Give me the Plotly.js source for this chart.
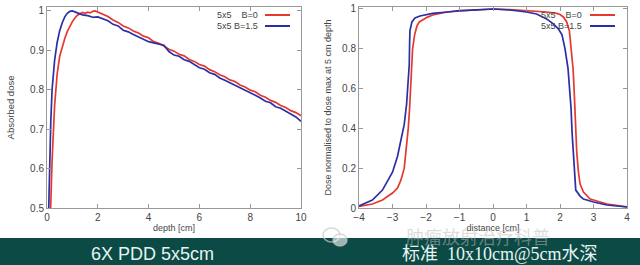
<!DOCTYPE html>
<html><head><meta charset="utf-8">
<script src="https://cdn.plot.ly/plotly-3.0.1.min.js"></script>
<style>html,body{margin:0;padding:0;background:#fff}#c{width:640px;height:265px}</style>
</head><body><div id="c"></div>
<script>
// ---- Left: PDD 5x5 ----
const pddDepthB0 = [0.12,0.2,0.3,0.4,0.5,0.6,0.7,0.8,0.9,1.0,1.1,1.2,1.3,1.4,1.5,1.6,1.7,1.8,1.9,
  2.0,2.2,2.4,2.6,2.8,3.0,3.2,3.4,3.6,3.8,4.0,4.2,4.4,4.6,4.8,5.0,5.2,5.4,5.6,5.8,6.0,6.2,6.4,6.6,6.8,7.0,7.2,7.4,7.6,7.8,8.0,8.2,8.4,8.6,8.8,9.0,9.2,9.4,9.6,9.8,10.0];
const pddDoseB0 = [0.45,0.62,0.76,0.84,0.885,0.91,0.93,0.948,0.962,0.973,0.982,0.989,0.993,0.996,0.994,0.997,0.995,0.999,1.0,
  0.997,0.990,0.986,0.977,0.971,0.962,0.957,0.949,0.944,0.936,0.932,0.922,0.918,0.911,0.903,0.898,0.890,0.886,0.877,0.872,0.864,0.860,0.851,0.846,0.838,0.833,0.825,0.821,0.812,0.807,0.799,0.795,0.786,0.781,0.773,0.768,0.760,0.755,0.747,0.742,0.734];
const pddDepthB15 = [0.05,0.1,0.15,0.2,0.3,0.4,0.5,0.6,0.7,0.8,0.9,1.0,1.1,1.2,1.3,1.4,1.6,1.8,
  2.0,2.2,2.4,2.6,2.8,3.0,3.2,3.4,3.6,3.8,4.0,4.2,4.4,4.6,4.8,5.0,5.2,5.4,5.6,5.8,6.0,6.2,6.4,6.6,6.8,7.0,7.2,7.4,7.6,7.8,8.0,8.2,8.4,8.6,8.8,9.0,9.2,9.4,9.6,9.8,10.0];
const pddDoseB15 = [0.45,0.6,0.72,0.8,0.875,0.92,0.95,0.97,0.985,0.994,0.999,1.0,0.997,0.994,0.992,0.99,0.988,0.984,
  0.985,0.980,0.975,0.966,0.962,0.951,0.947,0.940,0.934,0.929,0.922,0.919,0.916,0.913,0.897,0.888,0.885,0.876,0.872,0.864,0.856,0.852,0.843,0.839,0.830,0.824,0.818,0.812,0.804,0.799,0.792,0.786,0.779,0.771,0.767,0.757,0.753,0.745,0.738,0.731,0.720];

// ---- Right: profile 10x10 @5cm ----
const profXB0 = [-4.0,-3.6,-3.3,-3.0,-2.85,-2.75,-2.65,-2.58,-2.53,-2.49,-2.46,-2.43,-2.4,-2.34,-2.27,-2.2,-1.97,-1.8,-1.37,-1.0,-0.5,0,0.5,1.0,1.3,1.6,1.9,2.0,2.1,2.2,2.28,2.34,2.39,2.42,2.44,2.46,2.5,2.55,2.6,2.7,2.9,3.4,4.0];
const profYB0 = [0.008,0.02,0.04,0.075,0.1,0.14,0.2,0.3,0.4,0.5,0.6,0.7,0.8,0.87,0.915,0.935,0.958,0.97,0.985,0.99,0.995,1.0,0.997,0.993,0.99,0.985,0.978,0.972,0.96,0.935,0.89,0.8,0.7,0.6,0.5,0.38,0.28,0.18,0.12,0.08,0.045,0.02,0.006];
const profXB15 = [-4.0,-3.6,-3.3,-3.0,-2.85,-2.75,-2.65,-2.58,-2.53,-2.5,-2.49,-2.48,-2.42,-2.33,-2.18,-1.8,-1.37,-1.0,-0.5,0,0.5,1.0,1.3,1.6,1.8,1.95,2.06,2.15,2.24,2.29,2.33,2.36,2.4,2.44,2.47,2.6,2.7,3.0,3.4,4.0];
const profYB15 = [0.01,0.04,0.09,0.18,0.26,0.34,0.42,0.52,0.62,0.72,0.82,0.89,0.935,0.955,0.965,0.978,0.985,0.992,0.996,1.0,0.995,0.985,0.975,0.95,0.925,0.9,0.87,0.8,0.7,0.6,0.5,0.38,0.25,0.12,0.09,0.06,0.045,0.03,0.015,0.005];

const leftYTicks = [0.5,0.6,0.7,0.8,0.9,1];
const leftYLabels = ['0.5','0.6','0.7','0.8','0.9','1'];
const leftXTicks = [0,2,4,6,8,10];
const rightYTicks = [0,0.2,0.4,0.6,0.8,1];
const rightYLabels = ['0','0.2','0.4','0.6','0.8','1'];
const rightXTicks = [-4,-3,-2,-1,0,1,2,3,4];
const legendLabels = ['5x5    B=0','5x5 B=1.5'];
const captionLeft = '6X PDD 5x5cm';
const captionRight = '标准  10x10cm@5cm水深';

const RED = '#e5392f', BLUE = '#2b2fa6';
const tf = {family:'Liberation Sans, Arial, sans-serif', size:10, color:'#444'};

const traces = [
  {x:pddDepthB0, y:pddDoseB0, type:'scatter', mode:'lines', line:{color:RED,width:1.7}, xaxis:'x', yaxis:'y'},
  {x:pddDepthB15, y:pddDoseB15, type:'scatter', mode:'lines', line:{color:BLUE,width:1.7}, xaxis:'x', yaxis:'y'},
  {x:profXB0, y:profYB0, type:'scatter', mode:'lines', line:{color:RED,width:1.7}, xaxis:'x2', yaxis:'y2'},
  {x:profXB15, y:profYB15, type:'scatter', mode:'lines', line:{color:BLUE,width:1.7}, xaxis:'x2', yaxis:'y2'}
];

const W=640,H=265;
const px = v => v/W, py = v => 1 - v/H;
const ax = {showline:true, mirror:'ticks', linecolor:'#999', linewidth:1, ticks:'inside', ticklen:4, tickcolor:'#999', showgrid:false, zeroline:false, tickfont:tf, fixedrange:true};

const layout = {
  width:W, height:H, margin:{l:0,r:0,t:0,b:0}, paper_bgcolor:'#fff', plot_bgcolor:'#fff', showlegend:false,
  xaxis: Object.assign({}, ax, {domain:[px(47),px(301)], range:[0,10], tickvals:leftXTicks, anchor:'y',
     title:{text:'depth [cm]', font:{family:tf.family,size:9,color:'#444'}, standoff:2}}),
  yaxis: Object.assign({}, ax, {domain:[py(208),py(7)], range:[0.5,1.01], tickvals:leftYTicks, ticktext:leftYLabels, anchor:'x',
     title:{text:'Absorbed dose', font:{family:tf.family,size:9.5,color:'#444'}, standoff:13}}),
  xaxis2: Object.assign({}, ax, {domain:[px(359),px(627)], range:[-4,4], tickvals:rightXTicks, anchor:'y2',
     title:{text:'distance [cm]', font:{family:tf.family,size:9,color:'#444'}, standoff:2}}),
  yaxis2: Object.assign({}, ax, {domain:[py(208),py(7)], range:[0,1.01], tickvals:rightYTicks, ticktext:rightYLabels, anchor:'x2',
     title:{text:'Dose normalised to dose max at 5 cm depth', font:{family:tf.family,size:9,color:'#444'}, standoff:8}}),
  shapes: [
    {type:'rect', xref:'paper', yref:'paper', x0:0, x1:1, y0:0, y1:py(238), fillcolor:'#0c4a45', line:{width:0}, layer:'below'},
    {type:'line', xref:'paper', yref:'paper', x0:px(265), x1:px(290), y0:py(15), y1:py(15), line:{color:RED,width:2}},
    {type:'line', xref:'paper', yref:'paper', x0:px(265), x1:px(290), y0:py(26), y1:py(26), line:{color:BLUE,width:2}},
    {type:'line', xref:'paper', yref:'paper', x0:px(590), x1:px(615), y0:py(15), y1:py(15), line:{color:RED,width:2}},
    {type:'line', xref:'paper', yref:'paper', x0:px(590), x1:px(615), y0:py(26), y1:py(26), line:{color:BLUE,width:2}},
    {type:'circle', xref:'paper', yref:'paper', x0:px(323), x1:px(340), y0:py(242), y1:py(228), line:{color:'rgba(200,200,200,0.7)',width:1.5}},
    {type:'circle', xref:'paper', yref:'paper', x0:px(333), x1:px(347), y0:py(246), y1:py(234), line:{color:'rgba(200,200,200,0.7)',width:1.5}, fillcolor:'rgba(255,255,255,0.6)'}
  ],
  annotations: [
    {text:legendLabels[0], xref:'paper', yref:'paper', x:px(260), y:py(15), xanchor:'right', yanchor:'middle', showarrow:false, font:{family:tf.family,size:9,color:'#444'}},
    {text:legendLabels[1], xref:'paper', yref:'paper', x:px(260), y:py(26), xanchor:'right', yanchor:'middle', showarrow:false, font:{family:tf.family,size:9,color:'#444'}},
    {text:legendLabels[0], xref:'paper', yref:'paper', x:px(584), y:py(15), xanchor:'right', yanchor:'middle', showarrow:false, font:{family:tf.family,size:9,color:'#444'}},
    {text:legendLabels[1], xref:'paper', yref:'paper', x:px(584), y:py(26), xanchor:'right', yanchor:'middle', showarrow:false, font:{family:tf.family,size:9,color:'#444'}},
    {text:captionLeft, xref:'paper', yref:'paper', x:px(152), y:py(254), xanchor:'center', yanchor:'middle', showarrow:false, font:{family:'Liberation Sans, Arial, sans-serif',size:18,color:'#e6f4f1'}},
    {text:captionRight, xref:'paper', yref:'paper', x:px(500), y:py(254), xanchor:'center', yanchor:'middle', showarrow:false, font:{family:'Liberation Serif, Noto Sans CJK SC, serif',size:18,color:'#e6f4f1'}},
    {text:'肿瘤放射治疗科普', xref:'paper', yref:'paper', x:px(478), y:py(236), xanchor:'center', yanchor:'middle', showarrow:false, font:{family:'Noto Sans CJK SC, sans-serif',size:18,color:'rgba(185,185,185,0.5)'}}
  ]
};

Plotly.newPlot('c', traces, layout, {displayModeBar:false, staticPlot:true});
</script>
</body></html>
